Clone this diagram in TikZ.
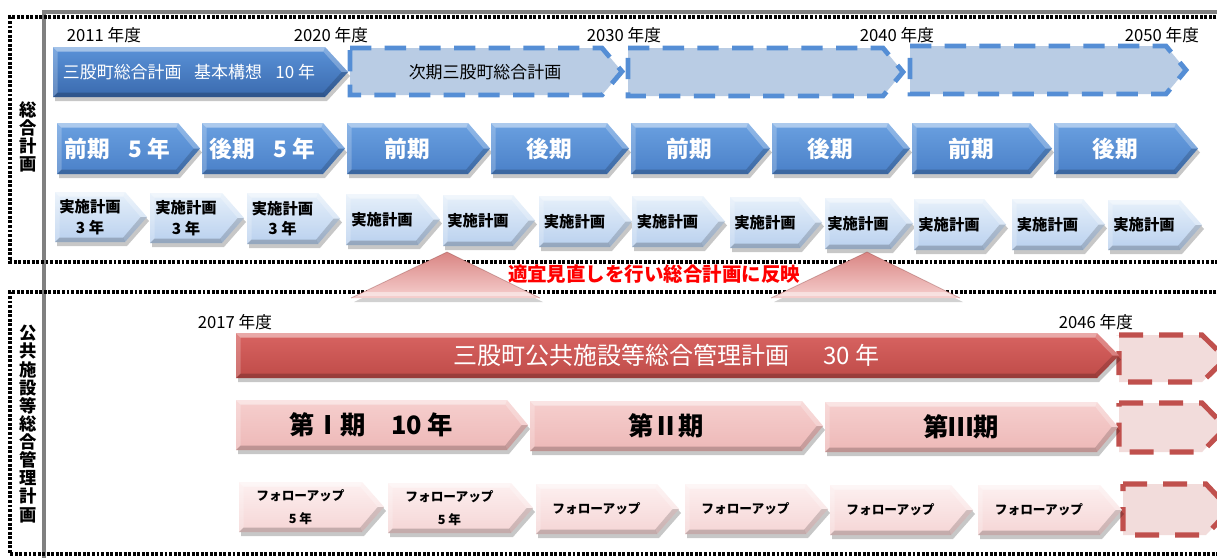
\documentclass[tikz,border=0pt]{standalone}
\usepackage{fontspec}
\setmainfont{Noto Sans CJK JP}
\usetikzlibrary{calc}
\definecolor{bdTop}{HTML}{5A92D8}
\definecolor{bdBot}{HTML}{3A6AAE}
\definecolor{bmTop}{HTML}{6AA0E0}
\definecolor{bmBot}{HTML}{4A80C8}
\definecolor{blTop}{HTML}{E6F0FA}
\definecolor{blBot}{HTML}{B9D0EE}
\definecolor{dbFill}{HTML}{B9CCE4}
\definecolor{dbLine}{HTML}{558ED5}
\definecolor{rdTop}{HTML}{D86462}
\definecolor{rdBot}{HTML}{BF4B48}
\definecolor{pkTop}{HTML}{F6CFCE}
\definecolor{pkBot}{HTML}{EDB8B7}
\definecolor{plTop}{HTML}{FDF0F0}
\definecolor{plBot}{HTML}{F5D5D5}
\definecolor{drFill}{HTML}{F2DCDB}
\definecolor{drLine}{HTML}{C0504D}
\definecolor{triTop}{HTML}{D98583}
\definecolor{triBot}{HTML}{F6CFCE}
\definecolor{grayline}{HTML}{808080}

% chevron: #1 name, #2 L, #3 T, #4 R(tip), #5 B, #6 tip length, #7 style prefix, #8 text
\newcommand{\chev}[8]{%
  \pgfmathsetmacro\cL{#2}\pgfmathsetmacro\cT{#3}%
  \pgfmathsetmacro\cR{#4}\pgfmathsetmacro\cB{#5}%
  \pgfmathsetmacro\cM{(\cT+\cB)/2}\pgfmathsetmacro\cN{\cR-#6}%
  \pgfmathsetmacro\dd{4.5}%
  \fill[black,opacity=.22] ({\cL+2},{\cT+4}) -- ({\cN+2},{\cT+4}) -- ({\cR+2},{\cM+4}) -- ({\cN+2},{\cB+4}) -- ({\cL+2},{\cB+4}) -- cycle;
  \path[#7face] (\cL,\cT) -- (\cN,\cT) -- (\cR,\cM) -- (\cN,\cB) -- (\cL,\cB) -- cycle;
  \fill[white,opacity=.45] (\cL,\cT) -- (\cN,\cT) -- ({\cN-0.4*\dd},{\cT+\dd}) -- ({\cL+\dd},{\cT+\dd}) -- cycle;
  \fill[white,opacity=.22] (\cL,\cT) -- ({\cL+\dd},{\cT+\dd}) -- ({\cL+\dd},{\cB-\dd}) -- (\cL,\cB) -- cycle;
  \fill[white,opacity=.25] (\cN,\cT) -- (\cR,\cM) -- ({\cR-1.4*\dd},\cM) -- ({\cN-0.4*\dd},{\cT+\dd}) -- cycle;
  \fill[black,opacity=.16] (\cR,\cM) -- (\cN,\cB) -- ({\cN-0.4*\dd},{\cB-\dd}) -- ({\cR-1.4*\dd},\cM) -- cycle;
  \fill[black,opacity=.2] ({\cL+\dd},{\cB-\dd}) -- ({\cN-0.4*\dd},{\cB-\dd}) -- (\cN,\cB) -- (\cL,\cB) -- cycle;
  \node[#7text] (#1) at ({(\cL+\cN)/2},\cM) {#8};
}
% dashed chevron: #1 L, #2 T, #3 R, #4 B, #5 tip, #6 style
\newcommand{\dchev}[6]{%
  \pgfmathsetmacro\cM{(#2+#4)/2}\pgfmathsetmacro\cN{#3-#5}%
  \path[#6] (#1,#2) -- (\cN,#2) -- (#3,\cM) -- (\cN,#4) -- (#1,#4) -- cycle;
}

\begin{document}
\begin{tikzpicture}[x=0.75pt,y=-0.75pt,
  dotline/.style={draw=black,line width=2.3pt,dash pattern=on 2.2pt off 1.2pt},
  yearlbl/.style={inner sep=0pt,font=\fontsize{12.5pt}{14pt}\selectfont,text=black},
  sidelbl/.style={inner sep=0pt,align=center,font=\fontsize{13pt}{13.6pt}\selectfont\bfseries},
  bdface/.style={top color=bdTop,bottom color=bdBot},
  bdtext/.style={inner sep=0pt,text=white,font=\fontsize{12.7pt}{14pt}\selectfont},
  bmface/.style={top color=bmTop,bottom color=bmBot},
  bmtext/.style={inner sep=0pt,text=white,font=\fontsize{17pt}{19pt}\selectfont\bfseries},
  blface/.style={top color=blTop,bottom color=blBot},
  bltext/.style={inner sep=0pt,align=center,text=black,font=\fontsize{11.5pt}{15.5pt}\selectfont\bfseries},
  rdface/.style={top color=rdTop,bottom color=rdBot},
  rdtext/.style={inner sep=0pt,text=white,font=\fontsize{18pt}{20pt}\selectfont},
  pkface/.style={top color=pkTop,bottom color=pkBot},
  pktext/.style={inner sep=0pt,text=black,font=\fontsize{19pt}{21pt}\selectfont\bfseries},
  plface/.style={top color=plTop,bottom color=plBot},
  pltext/.style={inner sep=0pt,align=center,text=black,font=\fontsize{9.5pt}{17pt}\selectfont\bfseries},
  dblue/.style={fill=dbFill,draw=dbLine,line width=3.6pt,dash pattern=on 16pt off 10pt},
  dred/.style={fill=drFill,draw=drLine,line width=3.8pt,dash pattern=on 18pt off 12pt},
]
\clip (0,0) rectangle (1217,558);
\fill[white] (0,0) rectangle (1217,558);

% frames
\draw[grayline,line width=2.4pt] (44,558) -- (44,12) -- (1230,12);
\draw[dotline] (1230,17) -- (10,17) -- (10,262) -- (1230,262);
\draw[dotline] (1230,292) -- (10,292) -- (10,554) -- (1230,554);

% side labels
\node[sidelbl] (sideA) at (28,137) {総\\合\\計\\画};
\node[sidelbl] (sideB) at (28,424) {公\\共\\施\\設\\等\\総\\合\\管\\理\\計\\画};

% year labels
\node[yearlbl] (y2011) at (104,35) {2011 年度};
\node[yearlbl] (y2020) at (331,35) {2020 年度};
\node[yearlbl] (y2030) at (624,35) {2030 年度};
\node[yearlbl] (y2040) at (897,35) {2040 年度};
\node[yearlbl] (y2050) at (1162,35) {2050 年度};
\node[yearlbl] (y2017) at (235,322) {2017 年度};
\node[yearlbl] (y2046) at (1096,322) {2046 年度};

% row 1
\dchev{350}{48}{622}{95}{20}{dblue}
\dchev{628}{48}{903}{96}{20}{dblue}
\dchev{910}{46}{1186}{94}{20}{dblue}
\node[inner sep=0pt,font=\fontsize{12.7pt}{14pt}\selectfont] (next) at (485,72) {次期三股町総合計画};
\chev{r1}{53}{47}{348}{97}{23}{bd}{三股町総合計画\hspace{0.75em}基本構想\hspace{0.8em}10 年}

% row 2
\chev{r2a}{57}{123}{200}{174}{22}{bm}{前期\hspace{0.8em}5 年}
\chev{r2b}{202}{123}{345}{174}{22}{bm}{後期\hspace{0.8em}5 年}
\chev{r2c}{347}{123}{490}{174}{22}{bm}{前期}
\chev{r2d}{491}{123}{629}{174}{22}{bm}{後期}
\chev{r2e}{631}{123}{770}{174}{22}{bm}{前期}
\chev{r2f}{772}{123}{910}{174}{22}{bm}{後期}
\chev{r2g}{912}{123}{1052}{174}{22}{bm}{前期}
\chev{r2h}{1054}{123}{1198}{174}{22}{bm}{後期}

% row 3
\chev{r3a}{55}{192}{147}{242}{22}{bl}{実施計画\\3 年}
\chev{r3b}{150}{193}{244}{243}{22}{bl}{実施計画\\3 年}
\chev{r3c}{247}{193}{340}{244}{22}{bl}{実施計画\\3 年}
\chev{r3d}{346}{194}{440}{245}{22}{bl}{実施計画}
\chev{r3e}{443}{195}{535}{246}{22}{bl}{実施計画}
\chev{r3f}{539}{196}{632}{247}{22}{bl}{実施計画}
\chev{r3g}{632}{196}{725}{247}{22}{bl}{実施計画}
\chev{r3h}{730}{197}{822}{248}{22}{bl}{実施計画}
\chev{r3i}{825}{198}{913}{249}{22}{bl}{実施計画}
\chev{r3j}{914}{199}{1006}{250}{22}{bl}{実施計画}
\chev{r3k}{1012}{199}{1105}{250}{22}{bl}{実施計画}
\chev{r3l}{1108}{200}{1202}{250}{22}{bl}{実施計画}

% triangles
\foreach \ax/\bl/\br [count=\i] in {447/351/540, 867/771/960}{
  \fill[black,opacity=.18] (\ax+2,256) -- (\br+3,302) -- (\bl+3,302) -- cycle;
  \shade[top color=triTop,bottom color=triBot] (\ax,252) -- (\br,298) -- (\bl,298) -- cycle;
  \fill[white,opacity=.45] (\bl+14,292) -- (\br-14,292) -- (\br-6,296) -- (\bl+6,296) -- cycle;
  \draw[drLine!70!black,opacity=.35,line width=0.6pt] (\bl,298) -- (\ax,252) -- (\br,298);
}
\node[inner sep=0pt,text=red,font=\fontsize{14.6pt}{16pt}\selectfont\bfseries] (review) at (654,274) {適宜見直しを行い総合計画に反映};

% row A
\dchev{1119}{335}{1226}{382}{24}{dred}
\chev{ra}{236}{333}{1119}{378}{22}{rd}{三股町公共施設等総合管理計画\hspace{1.4em}30 年}

% row B
\dchev{1119}{403}{1226}{452}{24}{dred}
\chev{rb1}{236}{400}{528}{450}{21}{pk}{第Ⅰ期　10 年}
\chev{rb2}{530}{401}{823}{451}{21}{pk}{第Ⅱ期}
\chev{rb3}{825}{402}{1118}{452}{21}{pk}{第Ⅲ期}

% row C
\dchev{1123}{484}{1230}{535}{24}{dred}
\chev{rc1}{239}{482}{384}{532}{22}{pl}{フォローアップ\\5 年}
\chev{rc2}{388}{483}{533}{533}{22}{pl}{フォローアップ\\5 年}
\chev{rc3}{536}{484}{679}{534}{22}{pl}{フォローアップ}
\chev{rc4}{685}{484}{828}{534}{22}{pl}{フォローアップ}
\chev{rc5}{830}{485}{973}{535}{22}{pl}{フォローアップ}
\chev{rc6}{978}{485}{1122}{535}{22}{pl}{フォローアップ}
\end{tikzpicture}
\end{document}
